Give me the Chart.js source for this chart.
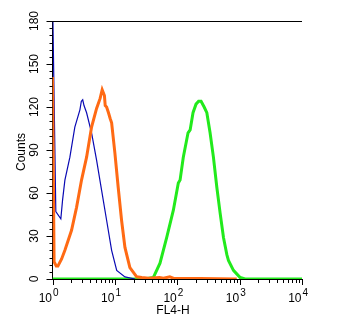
<!DOCTYPE html>
<html>
<head>
<meta charset="utf-8">
<script src="https://cdn.jsdelivr.net/npm/chart.js@4.4.0/dist/chart.umd.min.js"></script>
<style>
html,body{margin:0;padding:0;background:#fff;}
#wrap{width:343px;height:333px;position:relative;}
</style>
</head>
<body>
<div id="wrap"><canvas id="c" width="343" height="333"></canvas></div>
<script>
// ---- data ----
const xTitle = 'FL4-H';
const yTitle = 'Counts';
const yTickValues = [0, 30, 60, 90, 120, 150, 180];
const xDecades = [1, 10, 100, 1000, 10000];
const xExponents = ['0', '1', '2', '3', '4'];

const blueX = [1, 1.13, 1.36, 1.45, 1.58, 1.90, 2.28, 2.75, 2.9, 3.05, 3.2, 3.52, 4.23, 5.09, 6.12, 7.37, 8.87, 10.7, 14.5, 21];
const blueY = [200, 47, 42, 55, 69, 85, 106, 118, 124, 125, 121, 116, 102, 83, 62, 41, 20, 6, 1.5, 0];

const orangeX = [1, 1.03, 1.06, 1.15, 1.22, 1.40, 1.58, 2.02, 2.43, 2.92, 3.52, 4.23, 5.09, 5.8, 6.26, 6.8, 7.0, 7.37, 7.9, 8.4, 8.87, 10.0, 11.3, 12.8, 14.5, 17.4, 22.4, 27, 35, 52, 60, 76, 90, 232, 900];
const orangeY = [141, 76, 12, 9, 9, 14, 20, 34, 50, 69, 85, 106, 119, 126, 132, 128, 121, 120, 116, 112, 109, 88, 64, 41, 22, 8, 1.5, 1, 0.5, 1, 0.5, 1.5, 0.3, 0.3, 0];

const greenX = [1, 30, 41.3, 52.9, 67.8, 86.6, 104, 111, 125, 149, 161, 179, 200, 220, 241, 270, 298, 336, 380, 431, 487, 551, 624, 662, 796, 1020, 1227, 10000];
const greenY = [0, 0, 1, 11, 29, 48, 67, 69, 85, 102, 104, 116, 122, 124, 124, 120, 116, 102, 85, 64, 46, 29, 17, 13, 6, 1, 0, 0];

const pts = (xs, ys) => xs.map((x, i) => ({x: x, y: ys[i]}));

const FONT = '"Liberation Sans", Arial, sans-serif';

const decor = {
  id: 'decor',
  afterDraw(chart) {
    const ctx = chart.ctx;
    const xs = chart.scales.x, ys = chart.scales.y;
    const ca = chart.chartArea;
    ctx.save();
    ctx.strokeStyle = '#000';
    ctx.lineWidth = 1;
    // top frame line
    ctx.beginPath();
    ctx.moveTo(ca.left, Math.round(ca.top) + 0.5);
    ctx.lineTo(ca.right, Math.round(ca.top) + 0.5);
    ctx.stroke();
    // y ticks (major every 30, minor every 5)
    ctx.beginPath();
    for (let v = ys.min; v <= ys.max; v += 5) {
      const p = Math.round(ys.getPixelForValue(v)) + 0.5;
      const len = (v % 30 === 0) ? 6 : 3;
      ctx.moveTo(ca.left - len, p);
      ctx.lineTo(ca.left, p);
    }
    // x ticks (decades major, 2..9 minor)
    for (let d = 0; d < xDecades.length; d++) {
      const base = xDecades[d];
      const p = Math.round(xs.getPixelForValue(base)) + 0.5;
      ctx.moveTo(p, ca.bottom);
      ctx.lineTo(p, ca.bottom + 6);
      if (d < xDecades.length - 1) {
        for (let m = 2; m <= 9; m++) {
          const q = Math.round(xs.getPixelForValue(base * m)) + 0.5;
          ctx.moveTo(q, ca.bottom);
          ctx.lineTo(q, ca.bottom + 4);
        }
      }
    }
    ctx.stroke();

    ctx.fillStyle = '#000';
    // y tick labels (rotated)
    ctx.font = '12px ' + FONT;
    ctx.textAlign = 'center';
    ctx.textBaseline = 'middle';
    yTickValues.forEach(v => {
      const p = ys.getPixelForValue(v);
      ctx.save();
      ctx.translate(35, p);
      ctx.rotate(-Math.PI / 2);
      ctx.fillText(String(v), 0, 0);
      ctx.restore();
    });
    // y title
    ctx.save();
    ctx.translate(22, 152);
    ctx.rotate(-Math.PI / 2);
    ctx.fillText(yTitle, 0, 0);
    ctx.restore();
    // x tick labels 10^n
    ctx.textBaseline = 'alphabetic';
    xDecades.forEach((v, i) => {
      const p = xs.getPixelForValue(v);
      ctx.font = '12px ' + FONT;
      ctx.textAlign = 'right';
      ctx.fillText('10', p - 0.5, 302);
      ctx.font = '10px ' + FONT;
      ctx.textAlign = 'left';
      ctx.fillText(xExponents[i], p + 0.5, 296);
    });
    // x title
    ctx.font = '12px ' + FONT;
    ctx.textAlign = 'center';
    ctx.textBaseline = 'middle';
    ctx.fillText(xTitle, 173, 311);
    ctx.restore();
  }
};

new Chart(document.getElementById('c'), {
  type: 'line',
  data: {
    datasets: [
      {label: 'orange', data: pts(orangeX, orangeY), borderColor: '#ff6a14', borderWidth: 3, pointRadius: 0, tension: 0, fill: false},
      {label: 'blue', data: pts(blueX, blueY), borderColor: '#0a0ab4', borderWidth: 1.2, pointRadius: 0, tension: 0, fill: false},
      {label: 'green', data: pts(greenX, greenY), borderColor: '#22ea1c', borderWidth: 3, pointRadius: 0, tension: 0, fill: false}
    ]
  },
  options: {
    responsive: false,
    animation: false,
    layout: {padding: {top: 21, right: 41, left: 0, bottom: 0}},
    scales: {
      x: {
        type: 'logarithmic', min: 1, max: 10000,
        ticks: {display: false},
        grid: {display: false},
        border: {display: true, color: '#000', width: 1},
        afterFit(s) { s.height = 54; }
      },
      y: {
        type: 'linear', min: 0, max: 180,
        ticks: {display: false},
        grid: {display: false},
        border: {display: true, color: '#000', width: 1},
        afterFit(s) { s.width = 52.5; }
      }
    },
    plugins: {legend: {display: false}, tooltip: {enabled: false}, title: {display: false}}
  },
  plugins: [decor]
});
</script>
</body>
</html>
